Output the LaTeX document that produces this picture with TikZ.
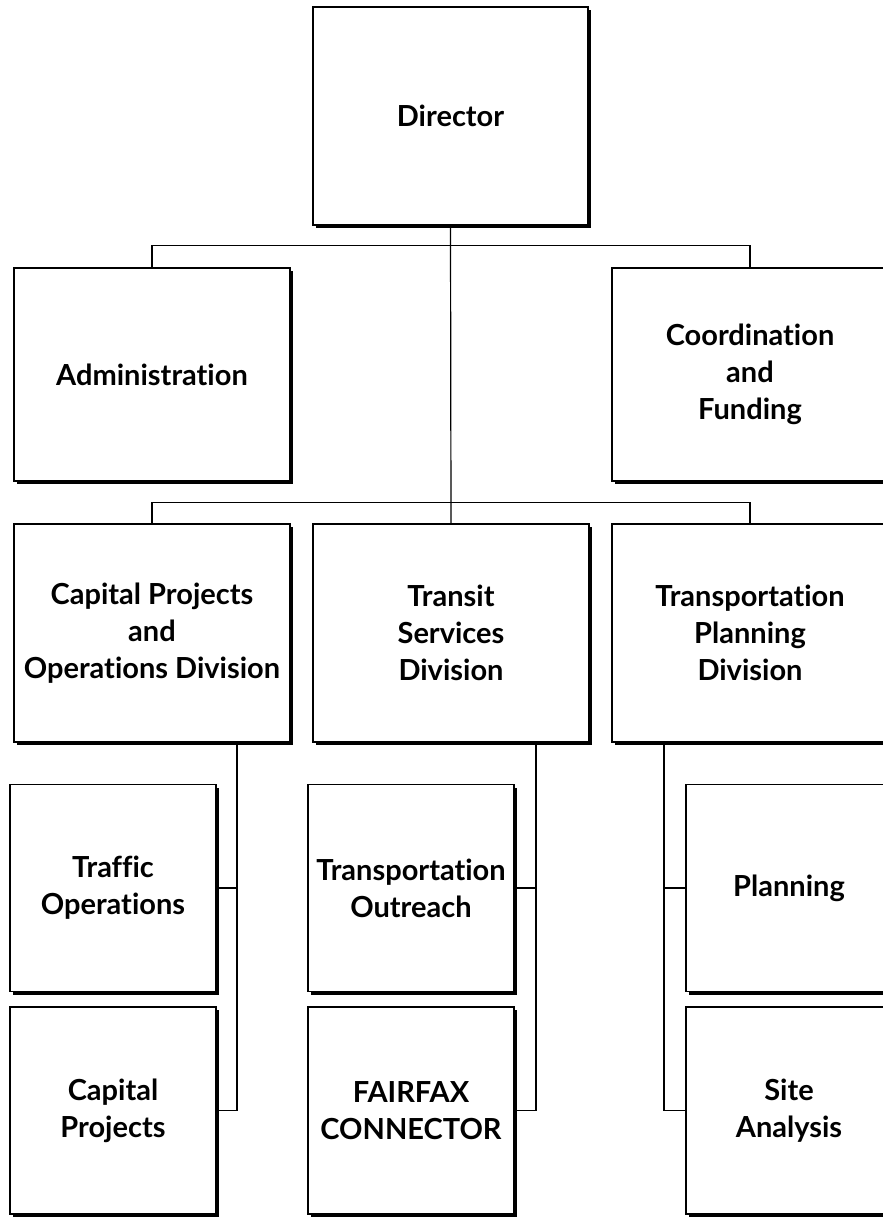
\documentclass[tikz,border=0pt]{standalone}
\usepackage{fontspec}
\setmainfont{Lato}[Ligatures=NoCommon]
\usetikzlibrary{shadows}
\definecolor{orgInk}{HTML}{000000}
\tikzset{
  org box/.style={draw=orgInk, fill=white, line width=1.2pt, align=center, inner sep=0pt,
    font=\fontsize{29}{37}\selectfont\bfseries,
    drop shadow={shadow xshift=3pt, shadow yshift=-3pt, fill=orgInk, opacity=1}},
  org top/.style={org box, minimum width=276pt, minimum height=213pt},
  org div/.style={org box, minimum width=276pt, minimum height=218pt},
  org unit/.style={org box, minimum width=206pt, minimum height=207pt},
  org link/.style={draw=orgInk, line width=1.2pt},
}

\begin{document}
\begin{tikzpicture}[x=1pt, y=-1pt]
  \useasboundingbox (0,0) rectangle (883,1218);
  % Boxes
  \node[org box, minimum width=275pt, minimum height=218pt] (dir) at (450.5,116) {Director};
  \node[org top] (adm) at (152,374.5) {Administration};
  \node[org top] (cof) at (750,374.5) {Coordination\\and\\Funding};
  \node[org div] (cpo) at (152,633) {Capital Projects\\and\\Operations Division};
  \node[org div] (tsd) at (451,633) {Transit\\Services\\Division};
  \node[org div] (tpd) at (750,633) {Transportation\\Planning\\Division};
  \node[org unit] (trop) at (113,888) {Traffic\\Operations};
  \node[org unit] (capp) at (113,1110.5) {Capital\\Projects};
  \node[org unit] (tout) at (411,888) {Transportation\\Outreach};
  \node[org unit] (ffx) at (411,1110.5) {FAIRFAX\\CONNECTOR};
  \node[org unit] (plan) at (789,888) {Planning};
  \node[org unit] (site) at (789,1110.5) {Site\\Analysis};
  % Upper links
  \draw[org link] (dir.south) -- (tsd.north);
  \draw[org link] (adm.north) -- ++(0,-22) -| (cof.north);
  \draw[org link] (cpo.north) -- ++(0,-21) -| (tpd.north);
  % Division links
  \coordinate (cpo bus) at ([xshift=85pt]cpo.south);
  \coordinate (tsd bus) at ([xshift=85pt]tsd.south);
  \coordinate (tpd bus) at ([xshift=-86pt]tpd.south);
  \draw[org link] (cpo bus) |- (capp.east);
  \draw[org link] (trop.east) -- (trop.east -| cpo bus);
  \draw[org link] (tsd bus) |- (ffx.east);
  \draw[org link] (tout.east) -- (tout.east -| tsd bus);
  \draw[org link] (tpd bus) |- (site.west);
  \draw[org link] (plan.west) -- (plan.west -| tpd bus);
\end{tikzpicture}
\end{document}
